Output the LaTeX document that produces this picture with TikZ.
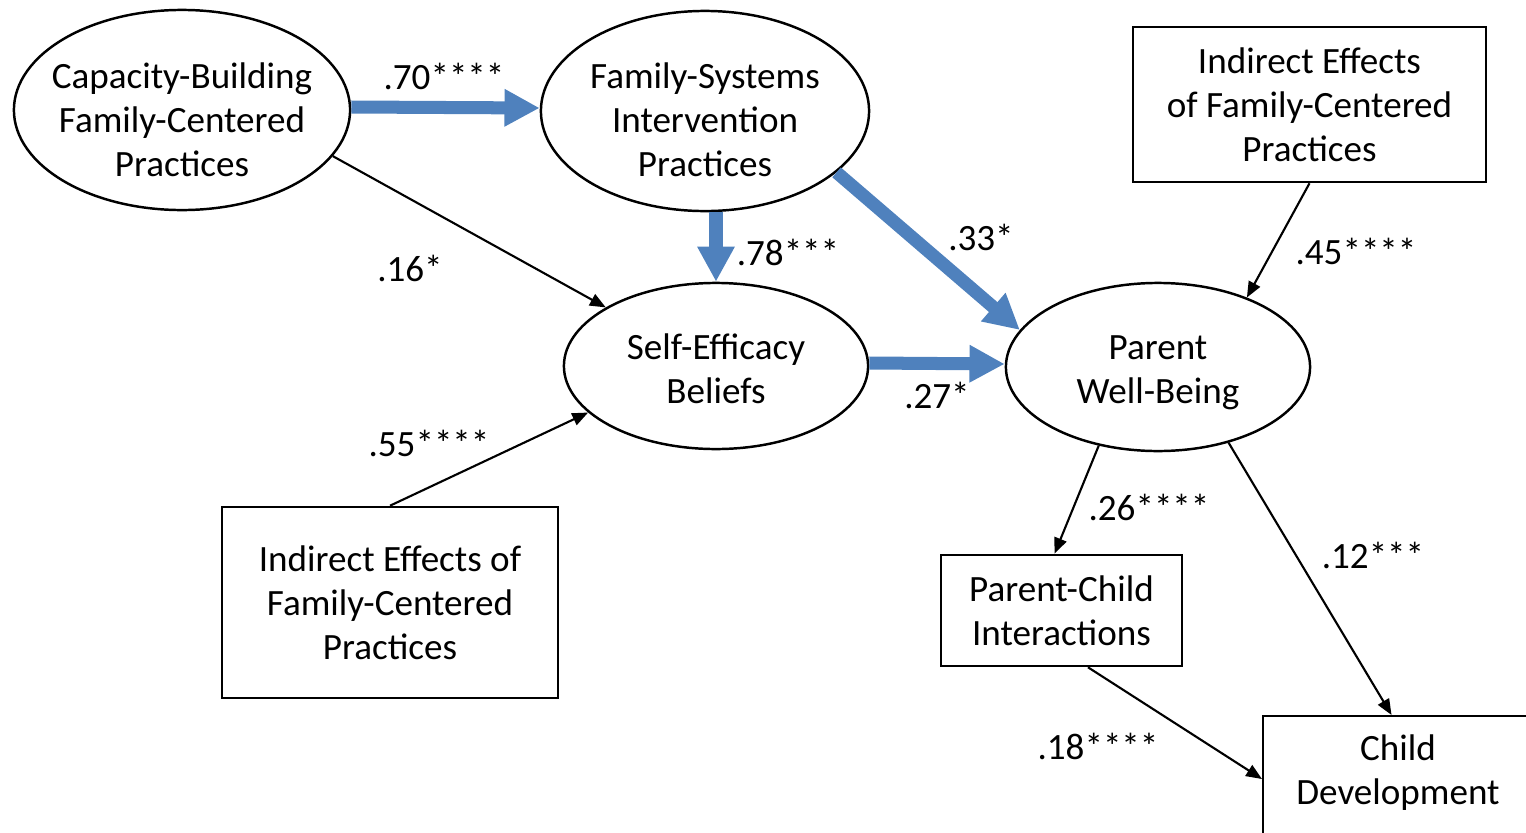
\documentclass[tikz,border=0pt]{standalone}
\usepackage{fontspec}
\setmainfont{Carlito}
\usetikzlibrary{arrows.meta,shapes}
\definecolor{pathblue}{HTML}{4F81BD}
\tikzstyle{oval}=[ellipse,draw,line width=0.7pt,inner sep=0pt]
\tikzstyle{box}=[rectangle,draw,line width=0.7pt,inner sep=0pt,align=center,font=\fontsize{10.55}{12.5}\selectfont]
\tikzstyle{txt}=[align=center,inner sep=0pt,font=\fontsize{10.55}{12.5}\selectfont]
\tikzstyle{edge} = [draw,line width=0.6pt,-{Triangle[length=4.5pt,width=3.6pt]}]
\tikzstyle{bigedge} = [draw,pathblue,line width=3.7pt,-{Triangle[length=10pt,width=10pt]}]
\tikzstyle{weight} = [inner sep=0pt,font=\fontsize{10.55}{12.5}\selectfont]

\begin{document}
\begin{tikzpicture}[x=0.01cm, y=-0.01cm]

    \useasboundingbox (0,0) rectangle (1526,833);

    % latent variables
    \node[oval,minimum width=3.36cm,minimum height=2cm] (cb) at (182,110) {};
    \node[oval,minimum width=3.28cm,minimum height=2cm] (fs) at (705,111) {};
    \node[oval,minimum width=3.04cm,minimum height=1.66cm] (se) at (716,366) {};
    \node[oval,minimum width=3.04cm,minimum height=1.68cm] (pw) at (1158,367) {};

    \node[txt] (cbtext) at (182,120) {Capacity-Building\\Family-Centered\\Practices};
    \node[txt] (fstext) at (705,120) {Family-Systems\\Intervention\\Practices};
    \node[txt] (setext) at (716,369) {Self-Efficacy\\Beliefs};
    \node[txt] (pwtext) at (1158,373) {Parent\\Well-Being};

    % observed variables
    \node[box,minimum width=3.53cm,minimum height=1.55cm] (ie1) at (1309.5,104.5) {Indirect Effects\\of Family-Centered\\Practices};
    \node[box,minimum width=3.36cm,minimum height=1.91cm] (ie2) at (390,602.5) {Indirect Effects of\\Family-Centered\\Practices};
    \node[box,minimum width=2.41cm,minimum height=1.11cm] (pc) at (1061.5,610.5) {Parent-Child\\Interactions};
    \node[box,minimum width=2.74cm,minimum height=1.4cm,anchor=north west] (cd) at (1262,715) {};
    \node[txt] (cdtext) at (1398,773) {Child\\Development};

    % mediated paths
    \draw[bigedge] ([yshift=0.03cm]cb.east) -- ([yshift=0.03cm]fs.west);
    \draw[bigedge] (se.north |- fs.south) -- (se.north);
    \draw[bigedge] (fs.-25) -- (pw.165);
    \draw[bigedge] ([yshift=0.03cm]se.east) -- ([yshift=0.03cm]pw.west);

    % direct paths
    \draw[edge] (cb.-17) -- (se.152);
    \draw[edge] (ie2.north) -- (se.-160);
    \draw[edge] (ie1.south) -- (pw.38);
    \draw[edge] (pw.-127) -- (pc.97);
    \draw[edge] (pw.-47) -- (cd.97);
    \draw[edge] (pc.-65) -- (cd.177);

    % path coefficients
    \foreach \pos/ \name/ \val in {{(444,76)/w70/.70****}, {(788,252)/w78/.78***}, {(981,237)/w33/.33*},
        {(410,268)/w16/.16*}, {(937,395)/w27/.27*}, {(429,443)/w55/.55****}, {(1356,251)/w45/.45****},
        {(1149,507)/w26/.26****}, {(1373,555)/w12/.12***}, {(1098,746)/w18/.18****}}
        \node[weight] (\name) at \pos {\val};

\end{tikzpicture}
\end{document}
